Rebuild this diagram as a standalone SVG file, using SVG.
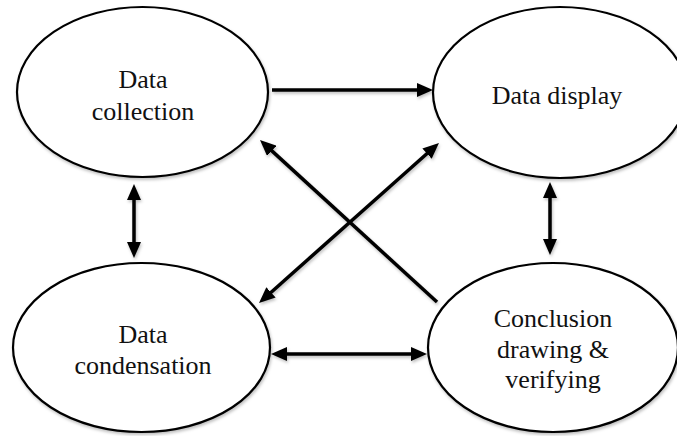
<svg xmlns="http://www.w3.org/2000/svg" width="677" height="436" viewBox="0 0 677 436">
<style>
.node ellipse{fill:#fff;stroke:#000;stroke-width:2.2}
.lbl{font-family:"Liberation Serif","Times New Roman",serif;font-size:26px;fill:#111;text-anchor:middle}
.conn line{stroke:#000;stroke-width:3.5;fill:none}
</style>
<defs>
<filter id="sh" x="-10%" y="-10%" width="130%" height="130%">
<feDropShadow dx="1" dy="2" stdDeviation="1.5" flood-color="#000" flood-opacity="0.25"/>
</filter>
<marker id="ah" viewBox="0 0 16 14" refX="8" refY="7" markerWidth="16" markerHeight="14" markerUnits="userSpaceOnUse" orient="auto-start-reverse">
<path d="M0,0 L16,7 L0,14 z" fill="#000"/>
</marker>
</defs>
<rect width="677" height="436" fill="#fff"/>
<g id="data-collection" class="node">
<ellipse cx="142.5" cy="92" rx="125.5" ry="85" filter="url(#sh)"/>
<text class="lbl" x="143" y="88">Data</text>
<text class="lbl" x="143" y="120">collection</text>
</g>
<g id="data-display" class="node">
<ellipse cx="560" cy="92.5" rx="127" ry="85.5" filter="url(#sh)"/>
<text class="lbl" x="557" y="104">Data display</text>
</g>
<g id="data-condensation" class="node">
<ellipse cx="141.5" cy="347.5" rx="128.5" ry="84.5" filter="url(#sh)"/>
<text class="lbl" x="143" y="343">Data</text>
<text class="lbl" x="143" y="374">condensation</text>
</g>
<g id="conclusion" class="node">
<ellipse cx="553" cy="347.5" rx="125" ry="84.5" filter="url(#sh)"/>
<text class="lbl" x="553" y="327">Conclusion</text>
<text class="lbl" x="553" y="358">drawing &amp;</text>
<text class="lbl" x="553" y="388">verifying</text>
</g>
<g id="connectors" class="conn" filter="url(#sh)">
<line x1="272" y1="90" x2="425" y2="90" marker-end="url(#ah)"/>
<line x1="134" y1="192" x2="134" y2="250" marker-start="url(#ah)" marker-end="url(#ah)"/>
<line x1="550" y1="190" x2="550" y2="247" marker-start="url(#ah)" marker-end="url(#ah)"/>
<line x1="279" y1="354" x2="419" y2="354" marker-start="url(#ah)" marker-end="url(#ah)"/>
<line x1="437" y1="302" x2="265.9" y2="145.4" marker-end="url(#ah)"/>
<line x1="265" y1="297.7" x2="433" y2="148.3" marker-start="url(#ah)" marker-end="url(#ah)"/>
</g>
</svg>
